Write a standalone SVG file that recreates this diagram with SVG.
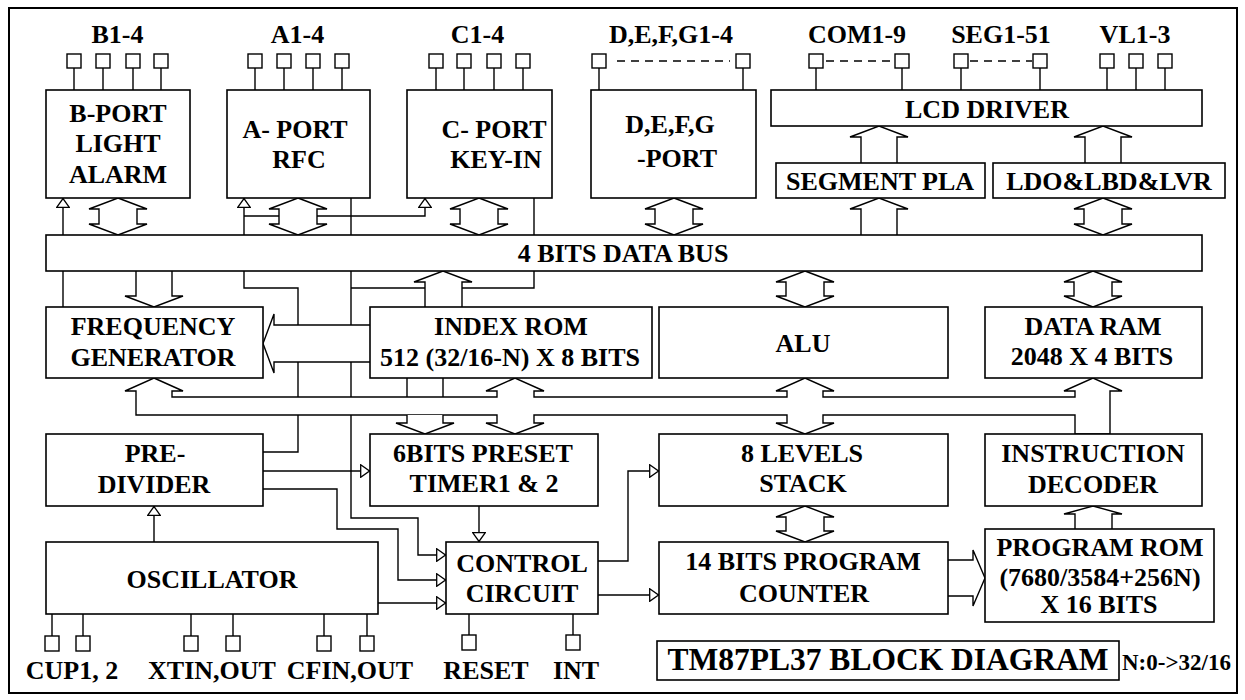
<svg xmlns="http://www.w3.org/2000/svg" width="1245" height="700" viewBox="0 0 1245 700">
<style>
.box{fill:#fff;stroke:#000;stroke-width:1.6}
.t{font-family:"Liberation Serif","Times New Roman",serif;font-weight:bold;font-size:26px;text-anchor:middle;fill:#000}
.ln{fill:none;stroke:#000;stroke-width:1.4}
.ar{fill:#fff;stroke:#000;stroke-width:1.4;stroke-linejoin:miter}
.pin{fill:#fff;stroke:#000;stroke-width:1.4}
.dash{fill:none;stroke:#000;stroke-width:1.4;stroke-dasharray:8 6}
</style>
<defs>
<marker id="tri" viewBox="0 0 10 14" refX="10" refY="7" markerWidth="10" markerHeight="14" markerUnits="userSpaceOnUse" orient="auto">
<path d="M0.7,0.7 L9.5,7 L0.7,13.3 Z" fill="#fff" stroke="#000" stroke-width="1.3"/>
</marker>
</defs>
<rect x="0" y="0" width="1245" height="700" fill="#fff"/>
<rect x="9" y="8" width="1228" height="685" fill="none" stroke="#000" stroke-width="2"/>

<g id="connectors">
  <path class="ln" d="M63,235 V198" marker-end="url(#tri)"/>
  <path class="ln" d="M63,271 V307"/>
  <path class="ln" d="M244,235 V198" marker-end="url(#tri)"/>
  <path class="ln" d="M244,216 H425 V198" marker-end="url(#tri)"/>
  <path class="ln" d="M351,198 V235"/>
  <path class="ln" d="M534,198 V235"/>
  <path class="ln" d="M244,271 V288 H298 V452 H263"/>
  <path class="ln" d="M534,271 V288 H351"/>
  <path class="ln" d="M351,271 V518 H418 V555 H446" marker-end="url(#tri)"/>
  <path class="ln" d="M263,471 H370" marker-end="url(#tri)"/>
  <path class="ln" d="M263,489 H337 V529 H398 V580 H446" marker-end="url(#tri)"/>
  <path class="ln" d="M378,603 H446" marker-end="url(#tri)"/>
  <path class="ln" d="M154,542 V506" marker-end="url(#tri)"/>
  <path class="ln" d="M479,506 V542" marker-end="url(#tri)"/>
  <path class="ln" d="M598,561 H628 V471 H659" marker-end="url(#tri)"/>
  <path class="ln" d="M598,595 H659" marker-end="url(#tri)"/>
  <path class="ln" d="M407,378 V397 M443,378 V397"/>

  <path class="ar" d="M118,198 L147,209 H137 V224 H147 L118,235 L89,224 H99 V209 H89 Z"/>
  <path class="ar" d="M298,198 L327,209 H317 V224 H327 L298,235 L269,224 H279 V209 H269 Z"/>
  <path class="ar" d="M479,198 L508,209 H498 V224 H508 L479,235 L450,224 H460 V209 H450 Z"/>
  <path class="ar" d="M674,198 L703,209 H693 V224 H703 L674,235 L645,224 H655 V209 H645 Z"/>
  <path class="ar" d="M1103,198 L1132,209 H1122 V224 H1132 L1103,235 L1074,224 H1084 V209 H1074 Z"/>
  <path class="ar" d="M805,271 L834,282 H824 V296 H834 L805,307 L776,296 H786 V282 H776 Z"/>
  <path class="ar" d="M1093,271 L1122,282 H1112 V296 H1122 L1093,307 L1064,296 H1074 V282 H1064 Z"/>
  <path class="ar" d="M805,506 L834,517 H824 V531 H834 L805,542 L776,531 H786 V517 H776 Z"/>

  <path class="ar" d="M861,163 V137 H850 L879,126 L908,137 H897 V163"/>
  <path class="ar" d="M1085,163 V137 H1074 L1103,126 L1132,137 H1121 V163"/>
  <path class="ar" d="M861,235 V209 H850 L879,198 L908,209 H897 V235"/>
  <path class="ar" d="M136,271 V296 H125 L154,307 L183,296 H172 V271"/>
  <path class="ar" d="M425,307 V282 H414 L443,271 L472,282 H462 V307"/>
  <path class="ar" d="M370,325 H274 V314 L263,343.5 L274,373 V362 H370"/>
  <path class="ar" d="M948,560 H973 V550 L985,578 L973,606 V596 H948"/>
  <path class="ar" d="M1075,529 V514 H1064 L1093,506 L1122,514 H1112 V529"/>

  <path class="ar" d="M154,378 L183,391 H172 V397 H497 V391 H486 L515,378 L544,391 H534 V397 H787 V391 H776 L805,378 L834,391 H823 V397 H1075 V391 H1064 L1093,378 L1122,391 H1110 V434 H1075 V415 H823 V423 H834 L805,434 L776,423 H787 V415 H534 V423 H544 L515,434 L486,423 H497 V415 H136 V391 H125 Z"/>
  <path class="ar" d="M407,415 V423 H396 L425,434 L454,423 H443 V415"/>
</g>

<g id="b-port">
  <text class="t" x="117.5" y="43">B1-4</text>
  <path class="ln" d="M74,68 V90 M103,68 V90 M133,68 V90 M161,68 V90"/>
  <rect class="pin" x="67" y="54" width="14" height="14"/><rect class="pin" x="96" y="54" width="14" height="14"/><rect class="pin" x="126" y="54" width="14" height="14"/><rect class="pin" x="154" y="54" width="14" height="14"/>
  <rect class="box" x="46" y="90" width="144" height="108"/>
  <text class="t" x="118" y="122">B-PORT</text>
  <text class="t" x="118" y="152">LIGHT</text>
  <text class="t" x="118" y="183">ALARM</text>
</g>
<g id="a-port">
  <text class="t" x="297.5" y="43">A1-4</text>
  <path class="ln" d="M255,68 V90 M284,68 V90 M313,68 V90 M342,68 V90"/>
  <rect class="pin" x="248" y="54" width="14" height="14"/><rect class="pin" x="277" y="54" width="14" height="14"/><rect class="pin" x="306" y="54" width="14" height="14"/><rect class="pin" x="335" y="54" width="14" height="14"/>
  <rect class="box" x="227" y="90" width="143" height="108"/>
  <text class="t" x="295" y="138">A- PORT</text>
  <text class="t" x="299" y="168">RFC</text>
</g>
<g id="c-port">
  <text class="t" x="477.5" y="43">C1-4</text>
  <path class="ln" d="M436,68 V90 M464,68 V90 M494,68 V90 M523,68 V90"/>
  <rect class="pin" x="429" y="54" width="14" height="14"/><rect class="pin" x="457" y="54" width="14" height="14"/><rect class="pin" x="487" y="54" width="14" height="14"/><rect class="pin" x="516" y="54" width="14" height="14"/>
  <rect class="box" x="407" y="90" width="145" height="108"/>
  <text class="t" x="494" y="138">C- PORT</text>
  <text class="t" x="496" y="168">KEY-IN</text>
</g>
<g id="defg-port">
  <text class="t" x="671" y="43">D,E,F,G1-4</text>
  <path class="ln" d="M599,68 V90 M743,68 V90"/>
  <path class="dash" d="M617,61 H730"/>
  <rect class="pin" x="592" y="54" width="14" height="14"/><rect class="pin" x="736" y="54" width="14" height="14"/>
  <rect class="box" x="591" y="90" width="165" height="108"/>
  <text class="t" x="670" y="133">D,E,F,G</text>
  <text class="t" x="677" y="167">-PORT</text>
</g>
<g id="lcd-driver">
  <text class="t" x="857" y="43">COM1-9</text>
  <text class="t" x="1001" y="43">SEG1-51</text>
  <text class="t" x="1135" y="43">VL1-3</text>
  <path class="ln" d="M816,68 V90 M902,68 V90 M961,68 V90 M1040,68 V90 M1107,68 V90 M1136,68 V90 M1165,68 V90"/>
  <path class="dash" d="M826,61 H892 M970,61 H1032"/>
  <rect class="pin" x="809" y="54" width="14" height="14"/><rect class="pin" x="895" y="54" width="14" height="14"/><rect class="pin" x="954" y="54" width="14" height="14"/><rect class="pin" x="1033" y="54" width="14" height="14"/><rect class="pin" x="1100" y="54" width="14" height="14"/><rect class="pin" x="1129" y="54" width="14" height="14"/><rect class="pin" x="1158" y="54" width="14" height="14"/>
  <rect class="box" x="771" y="90" width="431" height="36"/>
  <text class="t" x="987" y="118">LCD DRIVER</text>
</g>
<g id="segment-pla">
  <rect class="box" x="776" y="163" width="209" height="35"/>
  <text class="t" x="880" y="190">SEGMENT PLA</text>
</g>
<g id="ldo">
  <rect class="box" x="993" y="163" width="232" height="35"/>
  <text class="t" x="1109" y="190">LDO&amp;LBD&amp;LVR</text>
</g>
<g id="data-bus">
  <rect class="box" x="46" y="235" width="1156" height="36"/>
  <text class="t" x="623" y="262">4 BITS DATA BUS</text>
</g>
<g id="freq-gen">
  <rect class="box" x="46" y="307" width="217" height="71"/>
  <text class="t" x="153" y="335">FREQUENCY</text>
  <text class="t" x="153" y="366">GENERATOR</text>
</g>
<g id="index-rom">
  <rect class="box" x="370" y="307" width="282" height="71"/>
  <text class="t" x="511" y="335">INDEX ROM</text>
  <text class="t" x="510" y="366">512 (32/16-N) X 8 BITS</text>
</g>
<g id="alu">
  <rect class="box" x="659" y="307" width="289" height="71"/>
  <text class="t" x="803" y="352">ALU</text>
</g>
<g id="data-ram">
  <rect class="box" x="985" y="307" width="217" height="71"/>
  <text class="t" x="1093" y="335">DATA RAM</text>
  <text class="t" x="1092" y="365">2048 X 4 BITS</text>
</g>
<g id="pre-divider">
  <rect class="box" x="46" y="434" width="217" height="72"/>
  <text class="t" x="155" y="462">PRE-</text>
  <text class="t" x="154" y="493">DIVIDER</text>
</g>
<g id="timer">
  <rect class="box" x="370" y="434" width="228" height="72"/>
  <text class="t" x="483" y="462">6BITS PRESET</text>
  <text class="t" x="484" y="492">TIMER1 &amp; 2</text>
</g>
<g id="stack">
  <rect class="box" x="659" y="434" width="289" height="72"/>
  <text class="t" x="802" y="462">8 LEVELS</text>
  <text class="t" x="803" y="492">STACK</text>
</g>
<g id="instr-decoder">
  <rect class="box" x="985" y="434" width="217" height="72"/>
  <text class="t" x="1093" y="462">INSTRUCTION</text>
  <text class="t" x="1093" y="493">DECODER</text>
</g>
<g id="oscillator">
  <rect class="box" x="46" y="542" width="332" height="72"/>
  <text class="t" x="212" y="588">OSCILLATOR</text>
  <path class="ln" d="M52,614 V636 M83,614 V636 M191,614 V636 M233,614 V636 M324,614 V636 M367,614 V636"/>
  <rect class="pin" x="45" y="636" width="14" height="15"/><rect class="pin" x="76" y="636" width="14" height="15"/><rect class="pin" x="184" y="636" width="14" height="15"/><rect class="pin" x="226" y="636" width="14" height="15"/><rect class="pin" x="317" y="636" width="14" height="15"/><rect class="pin" x="360" y="636" width="14" height="15"/>
  <text class="t" x="72" y="679">CUP1, 2</text>
  <text class="t" x="212" y="679">XTIN,OUT</text>
  <text class="t" x="350" y="679">CFIN,OUT</text>
</g>
<g id="control-circuit">
  <rect class="box" x="446" y="542" width="152" height="72"/>
  <text class="t" x="522" y="572">CONTROL</text>
  <text class="t" x="522" y="602">CIRCUIT</text>
  <path class="ln" d="M469,614 V635 M573,614 V635"/>
  <rect class="pin" x="462" y="635" width="14" height="15"/><rect class="pin" x="566" y="635" width="14" height="15"/>
  <text class="t" x="486" y="679">RESET</text>
  <text class="t" x="576" y="679">INT</text>
</g>
<g id="program-counter">
  <rect class="box" x="659" y="542" width="289" height="72"/>
  <text class="t" x="803" y="570">14 BITS PROGRAM</text>
  <text class="t" x="804" y="602">COUNTER</text>
</g>
<g id="program-rom">
  <rect class="box" x="985" y="529" width="229" height="93"/>
  <text class="t" x="1100" y="556">PROGRAM ROM</text>
  <text class="t" x="1100" y="586">(7680/3584+256N)</text>
  <text class="t" x="1099" y="613">X 16 BITS</text>
</g>
<g id="title">
  <rect class="box" x="657" y="641" width="462" height="39"/>
  <text class="t" x="888" y="670" style="font-size:31.5px">TM87PL37 BLOCK DIAGRAM</text>
  <text class="t" x="1122" y="670" style="font-size:23px;text-anchor:start">N:0-&gt;32/16</text>
</g>
</svg>
